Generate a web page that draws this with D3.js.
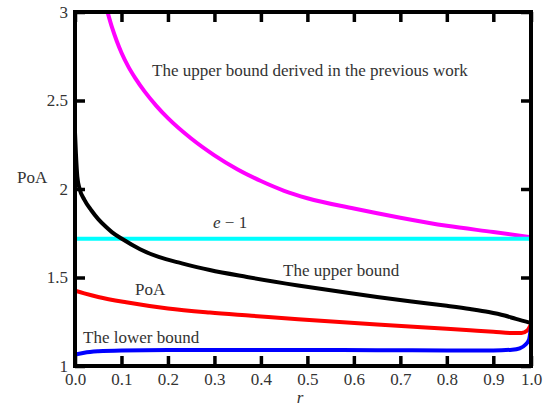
<html>
<head>
<meta charset="utf-8">
<script src="https://d3js.org/d3.v7.min.js"></script>
<style>
body { margin: 0; background: #fff; }
</style>
</head>
<body>
<svg id="page"></svg>
<script>

// tick values
var xTicks = [0, 0.1, 0.2, 0.3, 0.4, 0.5, 0.6, 0.7, 0.8, 0.9, 1.0];
var yTicks = [1, 1.5, 2, 2.5, 3];

// upper bound derived in the previous work (magenta)
var prevR = [0.07, 0.08, 0.09, 0.1, 0.115, 0.13, 0.15, 0.175, 0.2, 0.25, 0.3, 0.35, 0.4, 0.45, 0.5, 0.6, 0.7, 0.8, 0.9, 1.0];
var prevV = [3.0, 2.91, 2.835, 2.77, 2.69, 2.625, 2.55, 2.47, 2.40, 2.285, 2.19, 2.11, 2.045, 1.99, 1.948, 1.89, 1.838, 1.792, 1.757, 1.728];

// the upper bound (black)
var upR = [0, 0.002, 0.005, 0.01, 0.02, 0.035, 0.05, 0.067, 0.08, 0.1, 0.14, 0.18, 0.23, 0.29, 0.37, 0.48, 0.59, 0.65, 0.72, 0.8, 0.85, 0.89, 0.93, 0.96, 1.0];
var upV = [2.32, 2.2, 2.07, 2.0, 1.94, 1.88, 1.83, 1.785, 1.755, 1.72, 1.66, 1.616, 1.58, 1.542, 1.503, 1.455, 1.412, 1.39, 1.366, 1.34, 1.322, 1.305, 1.285, 1.266, 1.243];

// PoA (red)
var poaR = [0, 0.02, 0.05, 0.11, 0.2, 0.29, 0.38, 0.48, 0.65, 0.8, 0.85, 0.9, 0.95, 0.975, 0.99, 1.0];
var poaV = [1.425, 1.41, 1.39, 1.36, 1.325, 1.302, 1.284, 1.264, 1.234, 1.21, 1.202, 1.194, 1.186, 1.186, 1.2, 1.235];

// the lower bound (blue)
var lowR = [0, 0.02, 0.05, 0.1, 0.2, 0.5, 0.8, 0.9, 0.95, 0.97, 0.985, 0.995, 1.0];
var lowV = [1.065, 1.075, 1.083, 1.088, 1.09, 1.09, 1.088, 1.088, 1.092, 1.1, 1.12, 1.15, 1.22];

// e - 1 (cyan)
var eR = [0, 1];
var eV = [Math.E - 1, Math.E - 1];

var FONT = "'Liberation Serif'";

var svg = d3.select("#page").attr("width", 556).attr("height", 407);

// last interval of the axis is squeezed in the original picture
var x = d3.scaleLinear().domain([0, 0.9, 1]).range([75, 493.3, 531]);
var y = d3.scaleLinear().domain([1, 3]).range([366, 12]);

svg.append("clipPath").attr("id", "clip")
	.append("rect")
	.attr("x", x(0)).attr("y", y(3))
	.attr("width", x(1) - x(0)).attr("height", y(1) - y(3));

var line = d3.line()
	.x(function(d) { return x(d[0]); })
	.y(function(d) { return y(d[1]); })
	.curve(d3.curveMonotoneX);

function drawCurve(rs, vs, color) {
	svg.append("path")
		.datum(d3.zip(rs, vs))
		.attr("clip-path", "url(#clip)")
		.attr("fill", "none")
		.attr("stroke", color)
		.attr("stroke-width", 4)
		.attr("d", line);
}

drawCurve(prevR, prevV, "#ff00ff");
drawCurve(eR, eV, "#00ffff");
drawCurve(upR, upV, "#000000");
drawCurve(poaR, poaV, "#ff0000");
drawCurve(lowR, lowV, "#0000ff");

// axes, ticks pointing inwards
var axBottom = svg.append("g").attr("transform", "translate(0," + y(1) + ")")
	.call(d3.axisBottom(x).tickValues(xTicks).tickFormat(d3.format(".1f")).tickSize(-10).tickPadding(7));
var axTop = svg.append("g").attr("transform", "translate(0," + y(3) + ")")
	.call(d3.axisTop(x).tickValues(xTicks).tickFormat("").tickSize(-10));
var axLeft = svg.append("g").attr("transform", "translate(" + x(0) + ",0)")
	.call(d3.axisLeft(y).tickValues(yTicks).tickFormat(function(d) { return d; }).tickSize(-10).tickPadding(7));
var axRight = svg.append("g").attr("transform", "translate(" + x(1) + ",0)")
	.call(d3.axisRight(y).tickValues(yTicks).tickFormat("").tickSize(-10));

[axBottom, axTop, axLeft, axRight].forEach(function(g) {
	g.attr("font-family", "Liberation Serif").attr("font-size", 17);
	g.select(".domain").remove();
	g.selectAll(".tick line").attr("stroke", "#000").attr("stroke-width", 3.5);
	g.selectAll(".tick text").attr("fill", "#333");
});

// frame
svg.append("rect")
	.attr("x", x(0)).attr("y", y(3))
	.attr("width", x(1) - x(0)).attr("height", y(1) - y(3))
	.attr("fill", "none").attr("stroke", "#000").attr("stroke-width", 4);

// labels
function label(tx, ty, str, italic) {
	return svg.append("text")
		.attr("x", tx).attr("y", ty)
		.attr("fill", "#333")
		.style("font-family", FONT)
		.style("font-size", "17px")
		.style("font-style", italic ? "italic" : "normal")
		.text(str);
}

label(152, 76, "The upper bound derived in the previous work");
label(213, 228, "").call(function(t) {
	t.append("tspan").style("font-style", "italic").text("e");
	t.append("tspan").text(" \u2212 1");
});
label(283, 276, "The upper bound");
label(135, 295, "PoA");
label(83, 343, "The lower bound");
label(17, 183, "PoA");
label(300, 403, "r", true).attr("text-anchor", "middle");

</script>
</body>
</html>
